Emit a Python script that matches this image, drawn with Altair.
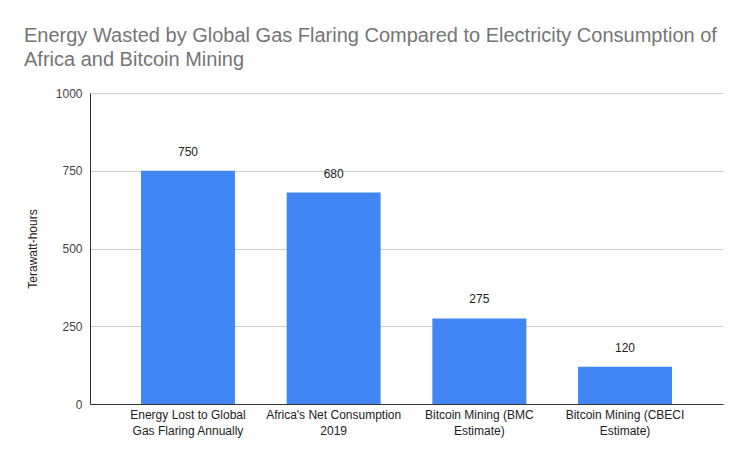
import json
import altair as alt
import pandas as pd

categories = [
    "Energy Lost to Global Gas Flaring Annually",
    "Africa's Net Consumption 2019",
    "Bitcoin Mining (BMC Estimate)",
    "Bitcoin Mining (CBECI Estimate)",
]
label_lines = [
    ["Energy Lost to Global", "Gas Flaring Annually"],
    ["Africa's Net Consumption", "2019"],
    ["Bitcoin Mining (BMC", "Estimate)"],
    ["Bitcoin Mining (CBECI", "Estimate)"],
]
values = [750, 680, 275, 120]
y_ticks = [0, 250, 500, 750, 1000]

df = pd.DataFrame({"category": categories, "value": values})

mapping = json.dumps(dict(zip(categories, label_lines)))
label_expr = mapping + "[datum.value]"

FONT = "Liberation Sans"

x = alt.X(
    "category:N",
    sort=categories,
    title=None,
    scale=alt.Scale(paddingInner=0.355, paddingOuter=0.35),
    axis=alt.Axis(
        labelAngle=0,
        labelExpr=label_expr,
        ticks=False,
        domainColor="#333333",
        labelColor="#222222",
        labelFontSize=12,
        labelPadding=5,
        labelFont=FONT,
        labelLineHeight=16,
        grid=False,
    ),
)
y = alt.Y(
    "value:Q",
    title="Terawatt-hours",
    scale=alt.Scale(domain=[0, 1000]),
    axis=alt.Axis(
        values=y_ticks,
        format="d",
        ticks=False,
        domainColor="#333333",
        gridColor="#cccccc",
        labelColor="#444444",
        labelFontSize=12,
        labelFont=FONT,
        labelPadding=8,
        titleFont=FONT,
        titleFontSize=12,
        titleFontWeight="normal",
        titleColor="#222222",
        titlePadding=16,
    ),
)

bars = alt.Chart(df).mark_bar(color="#4285F4").encode(x=x, y=y)
labels = alt.Chart(df).mark_text(
    dy=-19, fontSize=12, font=FONT, color="#222222"
).encode(x=alt.X("category:N", sort=categories), y="value:Q", text="value:Q")

chart = (
    (bars + labels)
    .properties(
        width=633,
        height=311,
        autosize=alt.AutoSizeParams(type="none"),
        padding={"left": 82, "top": 85, "right": 16, "bottom": 40},
        title=alt.TitleParams(
            text=[
                "Energy Wasted by Global Gas Flaring Compared to Electricity Consumption of",
                "Africa and Bitcoin Mining",
            ],
            anchor="start",
            frame="group",
            dx=-66,
            offset=17,
            font=FONT,
            fontSize=20,
            fontWeight="normal",
            color="#757575",
            lineHeight=24,
        ),
    )
    .configure_view(stroke=None)
)

chart.save("out.html", embed_options={"renderer": "svg", "actions": False})
